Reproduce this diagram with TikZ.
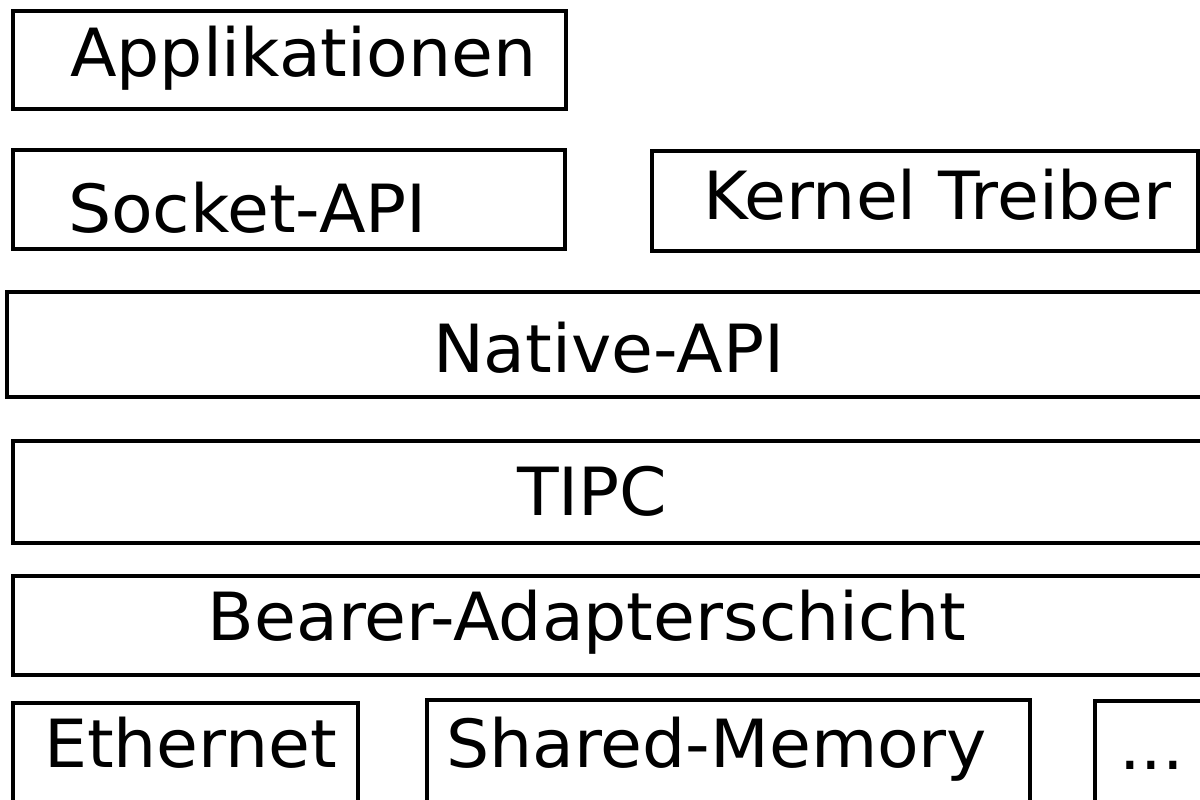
\documentclass[tikz,border=0pt]{standalone}
\usepackage{fontspec}
\setmainfont{DejaVu Sans}[FakeStretch=1.025]
\usepackage{tikz}

\begin{document}
\begin{tikzpicture}[
    layer/.style={rectangle, draw=black, line width=1.2pt, anchor=north west,
                  inner ysep=0pt, outer sep=0pt, align=left,
                  font=\fontsize{18.9pt}{22pt}\selectfont}
]
    \useasboundingbox (0,0) rectangle (12,-8);
    \clip (0,0) rectangle (12,-8);

    % Applications and APIs
    \node[layer, inner xsep=0.57cm, text width=4.39cm, text height=0.66cm, text depth=0.32cm]
        (apps) at (0.13,-0.11) {Applikationen};
    \node[layer, inner xsep=0.55cm, text width=4.42cm, text height=0.83cm, text depth=0.16cm]
        (sockapi) at (0.13,-1.50) {Socket-API};
    \node[layer, inner xsep=0.51cm, text width=4.44cm, text height=0.69cm, text depth=0.31cm]
        (kdriver) at (6.52,-1.51) {Kernel~Treiber};

    % Core layers
    \node[layer, inner xsep=4.26cm, text width=3.91cm, text height=0.81cm, text depth=0.24cm]
        (nativeapi) at (0.07,-2.92) {Native-API};
    \node[layer, inner xsep=5.04cm, text width=2.29cm, text height=0.75cm, text depth=0.27cm]
        (tipc) at (0.13,-4.41) {TIPC};
    \node[layer, inner xsep=1.95cm, text width=8.47cm, text height=0.65cm, text depth=0.34cm]
        (bearer) at (0.13,-5.76) {Bearer-Adapterschicht};

    % Media
    \node[layer, inner xsep=0.31cm, text width=2.83cm, text height=0.65cm, text depth=0.50cm]
        (ether) at (0.13,-7.03) {Ethernet};
    \node[layer, inner xsep=0.19cm, text width=5.65cm, text height=0.68cm, text depth=0.50cm]
        (shmem) at (4.27,-7.00) {Shared-Memory};
    \node[layer, inner xsep=0.24cm, text width=1.07cm, text height=0.69cm, text depth=0.50cm]
        (more) at (10.95,-7.01) {...};
\end{tikzpicture}
\end{document}
